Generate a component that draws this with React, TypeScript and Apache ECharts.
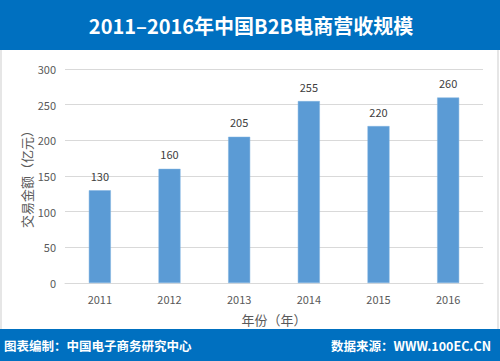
import React, { useEffect, useRef } from "react";
import * as echarts from "echarts";

const years = ["2011", "2012", "2013", "2014", "2015", "2016"];
const amounts = [130, 160, 205, 255, 220, 260];
const titleText = "2011–2016年中国B2B电商营收规模";
const footerLeft = "图表编制：中国电子商务研究中心";
const footerRight = "数据来源：WWW.100EC.CN";

const FONT = "'Noto Sans CJK SC', 'Noto Sans', sans-serif";

export default function App() {
  const ref = useRef<HTMLDivElement>(null);
  useEffect(() => {
    const chart = echarts.init(ref.current!, null, { renderer: "svg" });
    chart.setOption({
      animation: false,
      backgroundColor: "#ffffff",
      grid: { left: 65, right: 17, top: 69, bottom: 78 },
      xAxis: {
        type: "category",
        data: years,
        name: "年份（年）",
        nameLocation: "middle",
        nameGap: 30,
        nameTextStyle: { color: "#595959", fontSize: 13, fontFamily: FONT },
        axisLine: { lineStyle: { color: "#D9D9D9" } },
        axisTick: { show: false },
        axisLabel: { color: "#595959", fontSize: 11, margin: 10, fontFamily: FONT },
      },
      yAxis: {
        type: "value",
        min: 0,
        max: 300,
        interval: 50,
        name: "交易金额（亿元）",
        nameLocation: "middle",
        nameRotate: 90,
        nameGap: 32,
        nameMoveOverlap: false,
        nameTextStyle: { color: "#595959", fontSize: 13, fontFamily: FONT },
        axisLine: { show: false },
        axisTick: { show: false },
        axisLabel: { color: "#595959", fontSize: 11, margin: 9, fontFamily: FONT },
        splitLine: { lineStyle: { color: "#D9D9D9" } },
      },
      series: [
        {
          type: "bar",
          data: amounts,
          barWidth: 22,
          itemStyle: { color: "#5B9BD5", borderColor: "#7FB2E0", borderWidth: 0.5 },
          label: {
            show: true,
            position: "top",
            distance: 9,
            color: "#404040",
            fontSize: 11,
            fontFamily: FONT,
          },
        },
      ],
      graphic: [
        { type: "rect", left: 0, top: 0, shape: { width: 500, height: 50 }, style: { fill: "#0070C0" }, z: 10 },
        { type: "rect", left: 0, top: 329, shape: { width: 500, height: 32 }, style: { fill: "#0070C0" }, z: 10 },
        { type: "rect", left: 0, top: 50, shape: { width: 2, height: 279 }, style: { fill: "#E6E6E6" }, z: 10 },
        { type: "rect", left: 497, top: 50, shape: { width: 2, height: 279 }, style: { fill: "#E6E6E6" }, z: 10 },
        {
          type: "text",
          x: 251,
          y: 25,
          z: 11,
          style: {
            text: titleText,
            fill: "#ffffff",
            font: `bold 20px ${FONT}`,
            textAlign: "center",
            textVerticalAlign: "middle",
          },
        },
        {
          type: "text",
          x: 4,
          y: 345,
          z: 11,
          style: {
            text: footerLeft,
            fill: "#ffffff",
            font: `bold 12.5px ${FONT}`,
            textAlign: "left",
            textVerticalAlign: "middle",
          },
        },
        {
          type: "text",
          x: 491,
          y: 345,
          z: 11,
          style: {
            text: footerRight,
            fill: "#ffffff",
            font: `bold 12.5px ${FONT}`,
            textAlign: "right",
            textVerticalAlign: "middle",
          },
        },
      ],
    });
    return () => chart.dispose();
  }, []);
  return (
    <div
      ref={ref}
      style={{ position: "fixed", left: 0, top: 0, width: 500, height: 361 }}
    />
  );
}
